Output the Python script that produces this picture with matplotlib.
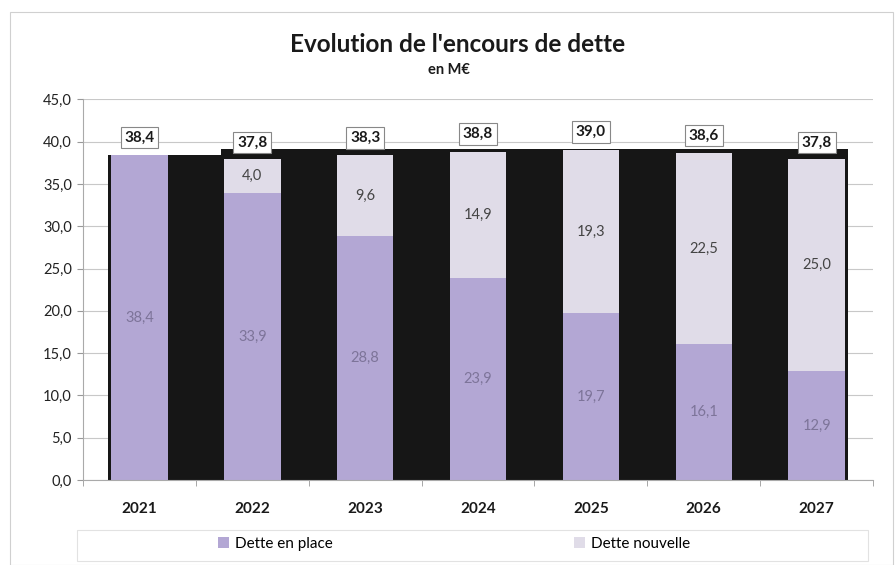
import matplotlib
matplotlib.use("Agg")
import matplotlib.pyplot as plt
from matplotlib.patches import Rectangle, Patch

plt.rcParams['font.family'] = ['Lato', 'DejaVu Sans']

years = ['2021', '2022', '2023', '2024', '2025', '2026', '2027']
dette_en_place = [38.4, 33.9, 28.8, 23.9, 19.7, 16.1, 12.9]
dette_nouvelle = [0.0, 4.0, 9.6, 14.9, 19.3, 22.5, 25.0]
totals = [38.4, 37.8, 38.3, 38.8, 39.0, 38.6, 37.8]
fond_noir = [38.4, 39.1, 39.1, 39.1, 39.1, 39.1, 39.1]
yticks = [0, 5, 10, 15, 20, 25, 30, 35, 40, 45]

c_place = '#b3a7d4'
c_nouv = '#e0dce8'

fig = plt.figure(figsize=(8.96, 5.65), dpi=100)
ax = fig.add_axes([83/896, 1-480/565, 790/896, (480-99.3)/565])

x = list(range(len(years)))
# black background step shape
for i, h in enumerate(fond_noir):
    left = i - 0.28
    right = min(i + 0.72, len(years) - 1 + 0.28)
    ax.add_patch(Rectangle((left, 0), right - left, h, facecolor='#161616',
                           edgecolor='none', zorder=1))

w = 0.5
ax.bar(x, dette_en_place, width=w, color=c_place, zorder=2, label='Dette en place')
ax.bar(x, dette_nouvelle, width=w, bottom=dette_en_place, color=c_nouv, zorder=2,
       label='Dette nouvelle')

for i in x:
    ax.text(i, dette_en_place[i] / 2, f"{dette_en_place[i]:.1f}".replace('.', ','),
            ha='center', va='center', fontsize=10.5, color='#7d7499', zorder=3)
    if dette_nouvelle[i] > 0:
        ax.text(i, dette_en_place[i] + dette_nouvelle[i] / 2,
                f"{dette_nouvelle[i]:.1f}".replace('.', ','),
                ha='center', va='center', fontsize=10.5, color='#444444', zorder=3)
    ax.text(i, totals[i] + 2.1, f"{totals[i]:.1f}".replace('.', ','),
            ha='center', va='center', fontsize=11, fontweight='bold', color='#1a1a1a',
            zorder=4,
            bbox=dict(boxstyle='square,pad=0.25', facecolor='white', edgecolor='#888888',
                      linewidth=0.8))

ax.set_xlim(-0.5, len(years) - 0.5)
ax.set_ylim(0, 45)
ax.set_yticks(yticks)
ax.set_yticklabels([f"{v:.1f}".replace('.', ',') for v in yticks], fontsize=10.5,
                   color='#222222')
ax.yaxis.grid(True, color='#c8c8c8', linewidth=0.8, zorder=0)
ax.set_axisbelow(True)
ax.set_xticks(x)
ax.set_xticklabels(years, fontsize=11, fontweight='bold', color='#1a1a1a')
ax.set_xticks([i + 0.5 for i in range(-1, len(years))], minor=True)
ax.tick_params(axis='x', which='major', length=0, pad=16)
ax.tick_params(axis='x', which='minor', length=4, color='#999999')
ax.tick_params(axis='y', length=4, color='#999999', pad=4)
for s in ['top', 'right']:
    ax.spines[s].set_visible(False)
ax.spines['left'].set_color('#aaaaaa')
ax.spines['bottom'].set_color('#aaaaaa')

fig.text(458/896, 1-44/565, "Evolution de l'encours de dette", ha='center', va='center',
         fontsize=17.5, fontweight='bold', color='#1a1a1a')
fig.text(449/896, 1-70/565, "en M€", ha='center', va='center',
         fontsize=10.5, fontweight='bold', color='#1a1a1a')

handles = [Patch(facecolor=c_place, edgecolor='none'), Patch(facecolor=c_nouv, edgecolor='none')]
leg = fig.legend(handles, ['Dette en place', 'Dette nouvelle'], loc='center',
                 bbox_to_anchor=(454/896, 1-544/565), ncol=2, frameon=False,
                 fontsize=11, columnspacing=15.8, handlelength=0.7, handleheight=0.7,
                 handletextpad=0.4)

# legend frame and outer border
fig.add_artist(Rectangle((77/896, 1-561/565), (868-77)/896, 31/565, transform=fig.transFigure,
                         facecolor='none', edgecolor='#e2e2e2', linewidth=0.8))
fig.add_artist(Rectangle((10/896, 1-565/565), (893-10)/896, (565-12)/565, transform=fig.transFigure,
                         facecolor='none', edgecolor='#d0d0d0', linewidth=0.8))

fig.savefig('out.png', dpi=100)
